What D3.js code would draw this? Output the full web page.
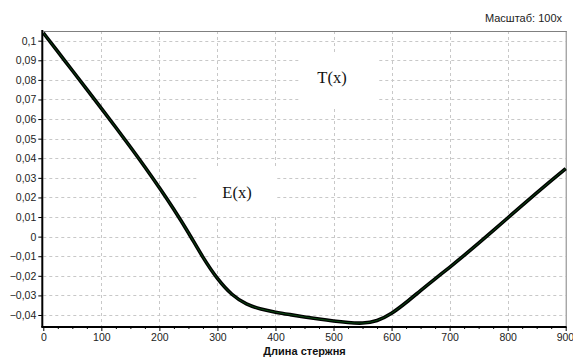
<!DOCTYPE html>
<html><head><meta charset="utf-8">
<script src="https://cdn.jsdelivr.net/npm/d3@7"></script>
<style>html,body{margin:0;padding:0;background:#fff;}svg{display:block;}</style>
</head><body>
<svg id="c" width="573" height="357"></svg>
<script>
const xs = [0,25,50,75,100,125,150,175,200,225,250,275,300,325,350,375,400,425,450,475,500,525,550,575,600,625,650,675,700,725,750,775,800,825,850,875,900];
const ys = [0.104,0.0944,0.0848,0.0752,0.0655,0.0557,0.0458,0.0356,0.0250,0.0140,0.0022,-0.0108,-0.0218,-0.0300,-0.0347,-0.0371,-0.0386,-0.0398,-0.0410,-0.0421,-0.0431,-0.0439,-0.0444,-0.0432,-0.0394,-0.0337,-0.0275,-0.0215,-0.0157,-0.0096,-0.0034,0.0030,0.0095,0.0160,0.0223,0.0286,0.0347];
const xTicks = [0,100,200,300,400,500,600,700,800,900];
const yTicks = [0.1,0.09,0.08,0.07,0.06,0.05,0.04,0.03,0.02,0.01,0,-0.01,-0.02,-0.03,-0.04];
const labels = ["T(x)","E(x)"];
const xTitle = "Длина стержня";
const scaleNote = "Масштаб: 100х";

const svg = d3.select("#c");
const L=43.3, R=565.7, T=31, B=326;
const x = d3.scaleLinear().domain([0,900]).range([L,R]);
const y = d3.scaleLinear().domain([-0.04,0.1]).range([315,40.7]);
const fmt = v => (Math.abs(v)<1e-9? "0" : d3.format(".2~f")(v).replace(".", ","));

// grid
const g = svg.append("g");
g.selectAll("line.h").data(yTicks).join("line")
  .attr("x1",L).attr("x2",R).attr("y1",d=>Math.round(y(d))+0.5).attr("y2",d=>Math.round(y(d))+0.5)
  .attr("stroke","#c8c8c8").attr("stroke-dasharray","3,3");
g.selectAll("line.v").data(xTicks.filter(d=>d>0 && d<900)).join("line")
  .attr("y1",T).attr("y2",B).attr("x1",d=>Math.round(x(d))+0.5).attr("x2",d=>Math.round(x(d))+0.5)
  .attr("stroke","#c8c8c8").attr("stroke-dasharray","3,3");

// label backgrounds
svg.append("rect").attr("x",300).attr("y",55).attr("width",78).attr("height",53).attr("fill","#fff");
svg.append("rect").attr("x",198).attr("y",168).attr("width",79).attr("height",46).attr("fill","#fff");
svg.append("text").attr("x",332).attr("y",83).attr("text-anchor","middle")
  .attr("font-family","'Liberation Serif','Times New Roman',serif").attr("font-size",16.5).attr("fill","#111").text(labels[0]);
svg.append("text").attr("x",237).attr("y",198).attr("text-anchor","middle")
  .attr("font-family","'Liberation Serif','Times New Roman',serif").attr("font-size",16.5).attr("fill","#111").text(labels[1]);

// frame top/right
svg.append("line").attr("x1",L).attr("x2",R+1).attr("y1",T+0.5).attr("y2",T+0.5).attr("stroke","#808080");
svg.append("line").attr("x1",R+0.5).attr("x2",R+0.5).attr("y1",T).attr("y2",B).attr("stroke","#808080");

// curve
const line = d3.line().x((d,i)=>x(xs[i])).y(d=>y(d)).curve(d3.curveBasis);
svg.append("path").attr("d",line(ys)).attr("fill","none").attr("stroke","#000").attr("stroke-width",3.6).attr("stroke-linejoin","round");
svg.append("path").attr("d",line(ys)).attr("fill","none").attr("stroke","#0b4a12").attr("stroke-width",1);

// axes
const font = "'Liberation Sans',Arial,sans-serif";
const ya = svg.append("g").attr("transform",`translate(${L-1},0)`)
  .call(d3.axisLeft(y).tickValues(yTicks).tickFormat(fmt).tickSize(4).tickPadding(2));
ya.select(".domain").remove();
ya.append("line").attr("x1",0).attr("x2",0).attr("y1",T-1).attr("y2",B+1).attr("stroke","#000").attr("stroke-width",2);
ya.selectAll("text").attr("font-family",font).attr("font-size",10.5).attr("fill","#222");

const minor = d3.range(0,901,25).filter(d=>d%100!==0);
const xm = svg.append("g").attr("transform",`translate(0,${B+1})`)
  .call(d3.axisBottom(x).tickValues(minor).tickFormat("").tickSize(2));
xm.select(".domain").remove();
const xa = svg.append("g").attr("transform",`translate(0,${B+1})`)
  .call(d3.axisBottom(x).tickValues(xTicks).tickSize(4).tickPadding(3));
xa.select(".domain").remove();
xa.append("line").attr("x1",L-2).attr("x2",R+1).attr("y1",0).attr("y2",0).attr("stroke","#000").attr("stroke-width",2);
xa.selectAll("text").attr("font-family",font).attr("font-size",10.5).attr("fill","#222");
xa.selectAll(".tick").filter(d=>d===900).select("text").attr("text-anchor","end").attr("dx",8);

svg.append("text").attr("x",(L+R)/2).attr("y",355).attr("text-anchor","middle")
  .attr("font-family",font).attr("font-size",11).attr("font-weight","bold").attr("fill","#111").text(xTitle);
svg.append("text").attr("x",562).attr("y",22).attr("text-anchor","end")
  .attr("font-family",font).attr("font-size",11).attr("fill","#222").text(scaleNote);
</script>
</body></html>
